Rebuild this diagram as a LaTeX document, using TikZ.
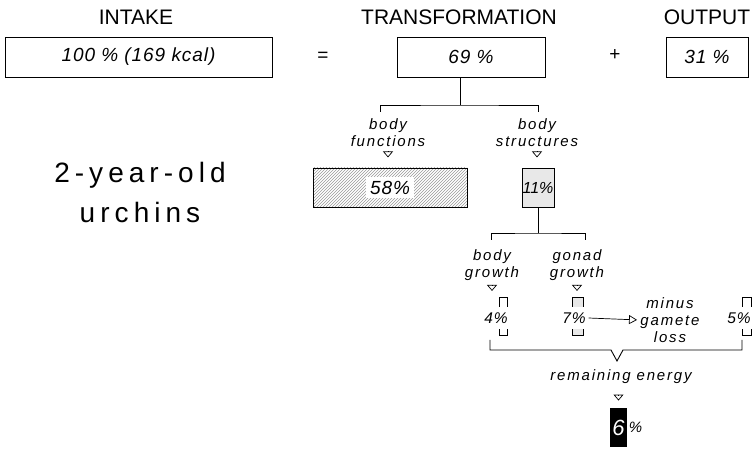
\documentclass[tikz,border=0pt]{standalone}
\usepackage{fontspec}
\setmainfont{Liberation Sans}
\newfontfamily\tightsp{Liberation Sans}[LetterSpace=5]
\newfontfamily\labelsp{Liberation Sans}[LetterSpace=12]
\newfontfamily\widesp{Liberation Sans}[LetterSpace=18]
\usetikzlibrary{arrows.meta,patterns,positioning}

\tikzset{
  heading/.style={font=\fontsize{21}{24}\selectfont},
  share/.style={draw, minimum height=40pt, font=\tightsp\fontsize{19}{22}\selectfont\itshape},
  note/.style={align=center, inner sep=1pt, font=\labelsp\fontsize{15}{17}\selectfont\itshape},
  val/.style={fill=white, inner xsep=2.5pt, inner ysep=1pt, minimum height=22pt, font=\tightsp\fontsize{15.5}{17}\selectfont\itshape},
  slim/.style={draw, line width=0.8pt, minimum width=8pt, minimum height=38pt, inner sep=0pt},
  drop/.style={-{Triangle[open,length=6pt,width=10pt]}, line width=0.7pt},
}

\begin{document}
\begin{tikzpicture}[x=1pt, y=-1pt, line width=0.9pt]
  \useasboundingbox (0,0) rectangle (753,449);

  % intake = transformation + output
  \node[heading] (intakehd) at (136,17) {INTAKE};
  \node[heading] (transhd) at (459,17) {TRANSFORMATION};
  \node[heading] (outhd) at (707,17) {OUTPUT};
  \node[share, minimum width=267pt] (intake) at (138.5,57) {100 \% (169 kcal)};
  \node[font=\fontsize{19}{22}\selectfont] (eq) at (323,57) {=};
  \node[share, minimum width=148pt] (trans) at (471,57) {69 \%};
  \node[font=\fontsize{19}{22}\selectfont] (plus) at (615,55) {+};
  \node[share, minimum width=82pt] (output) at (707,57) {31 \%};

  \node[font=\widesp\fontsize{28}{40}\selectfont, align=center] (urchins) at (140,192) {2-year-old\\urchins};

  % transformation splits up
  \coordinate (split) at (460,105);
  \coordinate (funtop) at (380,112);
  \coordinate (structop) at (538,112);
  \draw (trans.south -| split) -- (split);
  \draw (funtop) |- (split) -| (structop);

  \node[note] (fun) at (388,133) {body\\functions};
  \node[note] (struct) at (537,133) {body\\structures};
  \draw[drop] ([yshift=-3pt]fun.south) -- ++(0,6);
  \draw[drop] ([yshift=-3pt]struct.south) -- ++(0,6);

  \node[draw, pattern=north east lines, pattern color=gray!80, minimum width=154pt, minimum height=39pt] (fbox) at (390,187.5) {};
  \node[fill=white, inner sep=4pt, font=\tightsp\fontsize{19}{22}\selectfont\itshape] (fval) at (fbox) {58\%};
  \node[draw, fill=gray!18, minimum width=32pt, minimum height=39pt, inner sep=0pt, font=\fontsize{16}{18}\selectfont\itshape] (sbox) at (538,187.5) {11\%};

  % body structures split up
  \coordinate (split2) at (538,233);
  \coordinate (bgtop) at (491,240);
  \coordinate (ggtop) at (585,240);
  \draw (sbox.south) -- (split2);
  \draw (bgtop) |- (split2) -| (ggtop);

  \node[note] (bgrow) at (492,265) {body\\growth};
  \node[note] (ggrow) at (577,265) {gonad\\growth};
  \draw[drop] ([yshift=-3pt]bgrow.south) -- ++(0,6);
  \draw[drop] ([yshift=-3pt]ggrow.south) -- ++(0,6);

  \node[slim] (bbox) at (503,316) {};
  \node[slim, fill=gray!18, minimum width=11pt] (gbox) at (577.5,316) {};
  \node[slim, minimum width=9pt] (lbox) at (747,316) {};
  \node[val] (bval) at (496,318) {4\%};
  \node[val] (gval) at (574,318) {7\%};
  \node[val] (lval) at (739,318) {5\%};

  \node[note] (loss) at (670,320) {minus\\gamete\\loss};
  \draw[-{Triangle[open,length=8pt,width=9pt]}, line width=0.7pt, shorten >=2pt] (gval.east) -- (loss.west);

  % what is left over
  \coordinate (braceL) at (490,340);
  \coordinate (braceR) at (742,340);
  \coordinate (notch) at (617,361);
  \draw (braceL) |- (611,350) -- (notch) -- (623,350) -| (braceR);

  \node[note] (remain) at (621,377) {remaining energy};

  \node[fill=black, text=white, minimum width=17pt, minimum height=39pt, inner sep=0pt, font=\fontsize{22}{24}\selectfont\itshape] (six) at (618.5,427.5) {6};
  \node[right=1pt of six, inner sep=0pt, font=\fontsize{15}{17}\selectfont\itshape] (sixpct) {\%};
  \draw[drop] ([yshift=13pt]six.north) -- ++(0,6);
\end{tikzpicture}
\end{document}
